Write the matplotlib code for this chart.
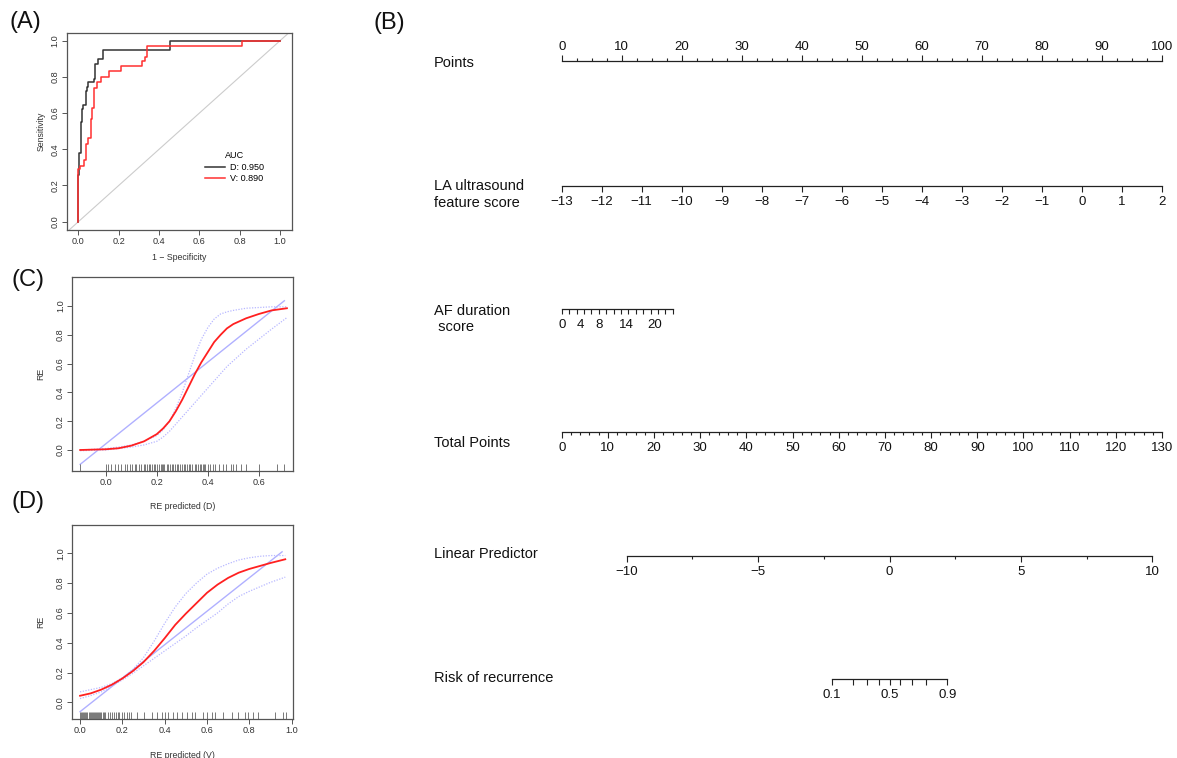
import numpy as np
import matplotlib.pyplot as plt
from matplotlib.ticker import FixedLocator, FixedFormatter, MultipleLocator, NullLocator

plt.rcParams['font.family'] = ['Liberation Sans', 'DejaVu Sans']

# ---- data ----
# (A) ROC curves, corner points of the staircase (1 - specificity, sensitivity)
fpr_d = [0, 0, 0.005, 0.012, 0.017, 0.025, 0.038, 0.042, 0.05, 0.078, 0.084, 0.096, 0.124, 0.455, 1.0]
tpr_d = [0, 0.26, 0.38, 0.55, 0.62, 0.645, 0.72, 0.745, 0.77, 0.79, 0.87, 0.90, 0.95, 1.0, 1.0]
fpr_v = [0, 0, 0.008, 0.03, 0.038, 0.046, 0.061, 0.069, 0.079, 0.091, 0.111, 0.152, 0.212, 0.314,
         0.331, 0.339, 0.81, 1.0]
tpr_v = [0, 0.29, 0.31, 0.34, 0.43, 0.46, 0.57, 0.63, 0.74, 0.77, 0.80, 0.83, 0.86, 0.89, 0.91,
         0.97, 1.0, 1.0]
auc_labels = ['D: 0.950', 'V: 0.890']

# (C) calibration, derivation set
cal_c_x = [-0.10, 0.0, 0.05, 0.10, 0.15, 0.20, 0.225, 0.25, 0.275, 0.30, 0.325, 0.35, 0.375, 0.40,
           0.425, 0.45, 0.475, 0.50, 0.55, 0.60, 0.65, 0.71]
cal_c_fit = [0.0, 0.005, 0.012, 0.03, 0.06, 0.11, 0.15, 0.20, 0.27, 0.35, 0.44, 0.53, 0.61, 0.68,
             0.75, 0.80, 0.845, 0.875, 0.915, 0.945, 0.97, 0.985]
cal_c_up = [0.0, 0.01, 0.02, 0.035, 0.06, 0.10, 0.14, 0.20, 0.29, 0.40, 0.53, 0.66, 0.77, 0.85,
            0.91, 0.945, 0.96, 0.97, 0.985, 0.99, 0.995, 0.995]
cal_c_lo = [-0.005, 0.0, 0.01, 0.02, 0.035, 0.06, 0.09, 0.13, 0.18, 0.23, 0.28, 0.33, 0.38, 0.43,
            0.48, 0.53, 0.58, 0.62, 0.70, 0.77, 0.84, 0.92]
line_c_x = [-0.10, 0.70]
line_c_y = [-0.10, 1.037]
rug_c = [-0.10, 0.00, 0.01, 0.02, 0.035, 0.05, 0.06, 0.075, 0.085, 0.095, 0.105, 0.115, 0.12, 0.13,
         0.14, 0.15, 0.155, 0.16, 0.17, 0.175, 0.18, 0.19, 0.195, 0.20, 0.21, 0.215, 0.22, 0.225,
         0.23, 0.24, 0.245, 0.25, 0.26, 0.265, 0.27, 0.28, 0.285, 0.29, 0.30, 0.305, 0.31, 0.32,
         0.325, 0.33, 0.34, 0.35, 0.355, 0.36, 0.37, 0.375, 0.38, 0.385, 0.39, 0.40, 0.41, 0.42,
         0.43, 0.445, 0.46, 0.47, 0.49, 0.50, 0.51, 0.53, 0.55, 0.60, 0.67, 0.70]

# (D) calibration, validation set
cal_d_x = [0.0, 0.05, 0.1, 0.15, 0.2, 0.25, 0.3, 0.35, 0.4, 0.45, 0.5, 0.55, 0.6, 0.65, 0.7, 0.75,
           0.8, 0.85, 0.9, 0.97]
cal_d_fit = [0.044, 0.06, 0.085, 0.118, 0.16, 0.21, 0.27, 0.345, 0.43, 0.52, 0.595, 0.665, 0.735,
             0.79, 0.835, 0.87, 0.895, 0.915, 0.935, 0.96]
cal_d_up = [0.07, 0.085, 0.10, 0.125, 0.165, 0.22, 0.30, 0.41, 0.53, 0.64, 0.73, 0.80, 0.86, 0.90,
            0.93, 0.955, 0.97, 0.98, 0.985, 0.985]
cal_d_lo = [0.025, 0.045, 0.07, 0.11, 0.15, 0.195, 0.245, 0.295, 0.345, 0.395, 0.445, 0.50, 0.55,
            0.60, 0.66, 0.71, 0.745, 0.775, 0.805, 0.84]
line_d_x = [0.0, 0.955]
line_d_y = [-0.063, 1.01]
rug_d = [0.0, 0.005, 0.01, 0.015, 0.02, 0.025, 0.03, 0.035, 0.04, 0.045, 0.05, 0.055, 0.06, 0.065,
         0.07, 0.075, 0.08, 0.085, 0.09, 0.095, 0.10, 0.11, 0.115, 0.12, 0.13, 0.14, 0.15, 0.16,
         0.17, 0.18, 0.185, 0.20, 0.21, 0.22, 0.23, 0.24, 0.268, 0.30, 0.34, 0.362, 0.386, 0.402,
         0.417, 0.441, 0.457, 0.48, 0.504, 0.527, 0.543, 0.583, 0.598, 0.622, 0.638, 0.677, 0.717,
         0.748, 0.78, 0.795, 0.819, 0.843, 0.92, 0.96, 0.973]

# (B) nomogram scales
points_range = (0, 100)
la_range = (-13, 2)           # maps onto 0..100 points
af_range = (0, 24)            # maps onto 0..18.5 points
af_points_max = 18.5
af_ticks = list(np.linspace(0, 24, 16))
af_labels = ['0', '4', '8', '14', '20']
af_label_vals = [0, 4, 8, 14, 20]
total_range = (0, 130)
lp_range = (-10, 10)
lp_total = (14.1, 127.9)      # total points at LP = -10 and LP = 10
risk_ticks = [0.1, 0.2, 0.3, 0.4, 0.5, 0.6, 0.7, 0.8, 0.9]
risk_labels = ['0.1', '', '', '', '0.5', '', '', '', '0.9']

W, H = 1177, 758
fig = plt.figure(figsize=(W / 100, H / 100), dpi=100)


def rect(x0, y0, x1, y1):
    return [x0 / W, 1 - y1 / H, (x1 - x0) / W, (y1 - y0) / H]


def r_style(ax):
    for s in ax.spines.values():
        s.set_color('#555555')
        s.set_linewidth(0.9)
    ax.tick_params(length=3.5, width=0.7, color='#555555', labelsize=6.6, labelcolor='#333333', pad=1.5)
    ax.tick_params(axis='y', labelrotation=90)
    for t in ax.get_yticklabels():
        t.set_va('center')


lab_kw = dict(fontsize=6.3, color='#333333')

# ---- (A) ROC ----
axA = fig.add_axes(rect(66.7, 33.3, 291.7, 230))
axA.axline((0, 0), (1, 1), color='#cccccc', lw=0.8)
axA.plot(fpr_d, tpr_d, drawstyle='steps-post', color='#333333', lw=1.1, label=auc_labels[0])
axA.plot(fpr_v, tpr_v, drawstyle='steps-post', color='#ff3030', lw=1.1, label=auc_labels[1])
axA.set_xlim(-0.058, 1.058)
axA.set_ylim(-0.046, 1.041)
axA.set_xticks(np.arange(0, 1.01, 0.2))
axA.set_yticks(np.arange(0, 1.01, 0.2))
axA.set_xlabel('1 \u2212 Specificity', labelpad=5, **lab_kw)
axA.set_ylabel('Sensitivity', labelpad=4, **lab_kw)
r_style(axA)
leg = axA.legend(title='AUC', loc='upper left', bbox_to_anchor=(0.6, 0.42), frameon=False,
                 fontsize=6.5, title_fontsize=6.5, handlelength=2.2, handletextpad=0.5,
                 labelspacing=0.3, borderaxespad=0)


# ---- (C), (D) calibration ----
def calib(ax, x, fit, up, lo, lx, ly, rug):
    ax.plot(lx, ly, color='#b0b0ff', lw=1.0)
    ax.plot(x, up, color='#b8b8ff', lw=0.9, ls=(0, (1, 1.2)))
    ax.plot(x, lo, color='#b8b8ff', lw=0.9, ls=(0, (1, 1.2)))
    ax.plot(x, fit, color='#ff2020', lw=1.3)
    ax.vlines(rug, 0, 0.035, transform=ax.get_xaxis_transform(), color='#444444', lw=0.5)
    ax.set_yticks(np.arange(0, 1.01, 0.2))
    ax.set_ylabel('RE', labelpad=7.5, **lab_kw)
    r_style(ax)


axC = fig.add_axes(rect(72, 277.3, 293.3, 471))
calib(axC, cal_c_x, cal_c_fit, cal_c_up, cal_c_lo, line_c_x, line_c_y, rug_c)
axC.set_xlim(-0.132, 0.735)
axC.set_ylim(-0.146, 1.2)
axC.set_xticks([0.0, 0.2, 0.4, 0.6])
axC.set_xlabel('RE predicted (D)', labelpad=11, **lab_kw)

axD = fig.add_axes(rect(72, 525, 293.3, 719.3))
calib(axD, cal_d_x, cal_d_fit, cal_d_up, cal_d_lo, line_d_x, line_d_y, rug_d)
axD.set_xlim(-0.038, 1.008)
axD.set_ylim(-0.114, 1.19)
axD.set_xticks(np.arange(0, 1.01, 0.2))
axD.set_xlabel('RE predicted (V)', labelpad=11, **lab_kw)

# ---- (B) nomogram ----
px0, px1 = 561.7, 1162.0      # pixel x of 0 and 100 points


def pt2px(p):
    return px0 + (p - points_range[0]) * (px1 - px0) / (points_range[1] - points_range[0])


def row(y, lo_px, hi_px, top=False):
    h = 0.02
    if top:
        r = [lo_px / W, 1 - y / H - h, (hi_px - lo_px) / W, h]
    else:
        r = [lo_px / W, 1 - y / H, (hi_px - lo_px) / W, h]
    ax = fig.add_axes(r)
    ax.patch.set_visible(False)
    for s in ax.spines.values():
        s.set_visible(False)
    side = 'top' if top else 'bottom'
    ax.spines[side].set_visible(True)
    ax.spines[side].set_linewidth(0.9)
    ax.spines[side].set_color('#222222')
    ax.yaxis.set_visible(False)
    if top:
        ax.xaxis.tick_top()
    ax.tick_params(which='major', length=4, width=0.8, color='#222222', labelsize=9.5,
                   pad=1.5 if top else 3, labelcolor='#111111')
    ax.tick_params(which='minor', length=2, width=0.8, color='#222222')
    return ax


# Points
ax = row(61, pt2px(0), pt2px(100), top=True)
ax.set_xlim(*points_range)
ax.xaxis.set_major_locator(MultipleLocator(10))
ax.xaxis.set_minor_locator(MultipleLocator(2.5))

# LA ultrasound feature score
ax = row(186, pt2px(0), pt2px(100))
ax.set_xlim(*la_range)
ax.xaxis.set_major_locator(MultipleLocator(1))
ax.tick_params(which='major', length=4.5)

# AF duration score: tick marks every 1.6, labels only at some values
ax = row(309, pt2px(0), pt2px(af_points_max))
ax.set_xlim(*af_range)
ax.xaxis.remove_overlapping_locs = False
ax.xaxis.set_major_locator(FixedLocator(af_label_vals))
ax.xaxis.set_major_formatter(FixedFormatter(af_labels))
ax.xaxis.set_minor_locator(FixedLocator(af_ticks))
ax.tick_params(which='major', length=0, pad=7)
ax.tick_params(which='minor', length=3.5)

# Total Points
tp_scale = 100 / (total_range[1] - total_range[0])
ax = row(432, pt2px(0), pt2px(total_range[1] * tp_scale))
ax.set_xlim(*total_range)
ax.xaxis.set_major_locator(MultipleLocator(10))
ax.xaxis.set_minor_locator(MultipleLocator(2))

# Linear Predictor
lp_lo_px = pt2px(lp_total[0] * tp_scale)
lp_hi_px = pt2px(lp_total[1] * tp_scale)
ax = row(556, lp_lo_px, lp_hi_px)
ax.set_xlim(*lp_range)
ax.xaxis.set_major_locator(MultipleLocator(5))
ax.xaxis.set_minor_locator(MultipleLocator(2.5))


def lp2px(v):
    return lp_lo_px + (v - lp_range[0]) * (lp_hi_px - lp_lo_px) / (lp_range[1] - lp_range[0])


# Risk of recurrence (logit of LP)
lg = lambda p: np.log(p / (1 - p))
ax = row(679, lp2px(lg(risk_ticks[0])), lp2px(lg(risk_ticks[-1])))
ax.set_xscale('logit')
ax.set_xlim(risk_ticks[0], risk_ticks[-1])
ax.xaxis.set_major_locator(FixedLocator(risk_ticks))
ax.xaxis.set_major_formatter(FixedFormatter(risk_labels))
ax.xaxis.set_minor_locator(NullLocator())

# row labels
row_labels = [('Points', 63), ('LA ultrasound\nfeature score', 194.5), ('AF duration\n score', 319),
              ('Total Points', 443), ('Linear Predictor', 554), ('Risk of recurrence', 678)]
for txt, yy in row_labels:
    fig.text(434 / W, 1 - yy / H, txt, fontsize=10.5, ha='left', va='center', color='#111111',
             linespacing=1.25)

# panel letters
for txt, xx, yy in [('(A)', 25, 22), ('(B)', 389, 23), ('(C)', 28, 280), ('(D)', 28, 502)]:
    fig.text(xx / W, 1 - yy / H, txt, fontsize=17, ha='center', va='center', color='#111111')

fig.savefig('out.png', dpi=100)
